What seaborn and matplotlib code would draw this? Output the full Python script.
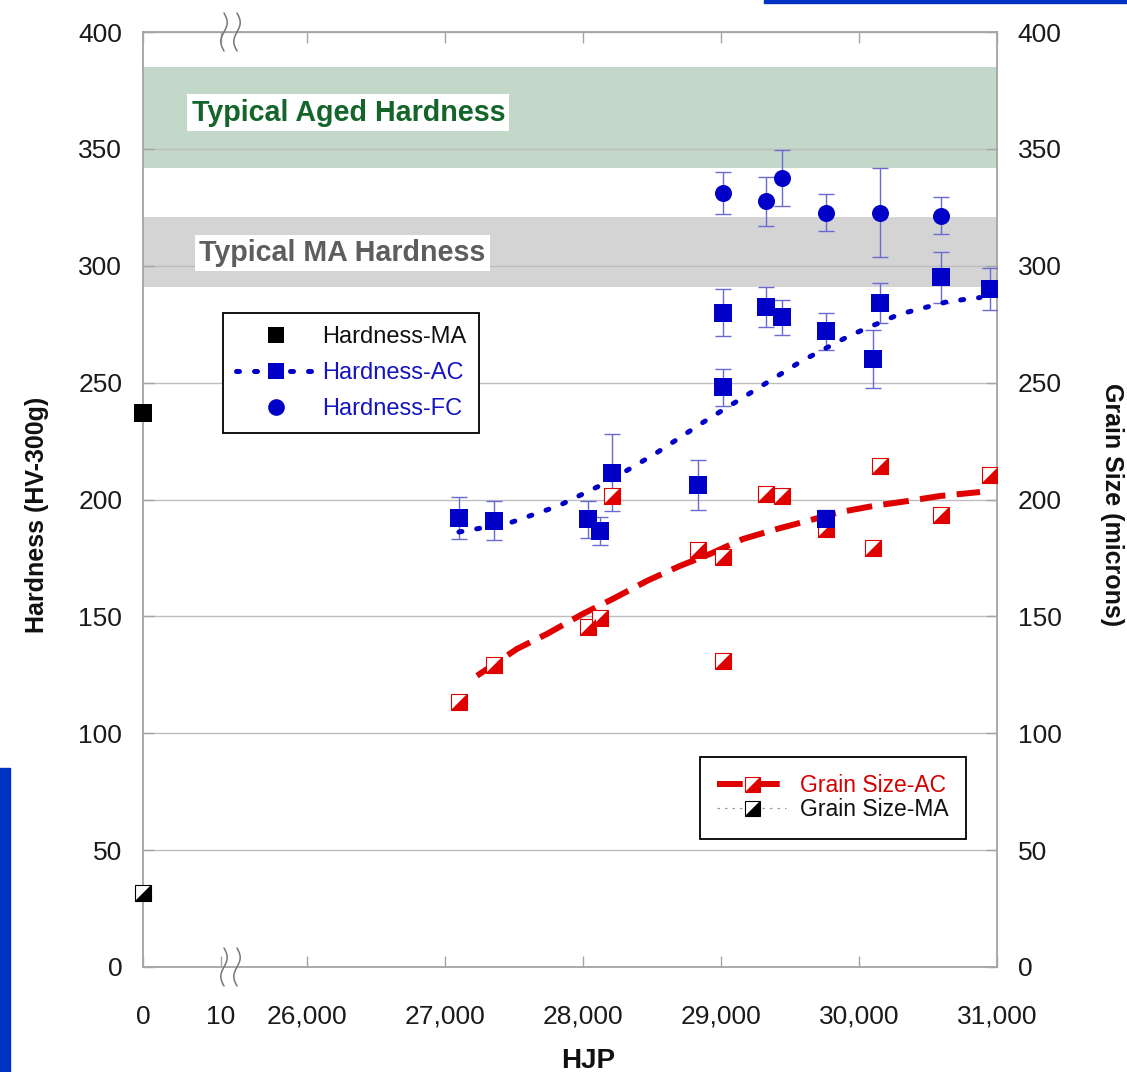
import numpy as np
import matplotlib
matplotlib.use("Agg")
import matplotlib.pyplot as plt
import seaborn as sns
from matplotlib.lines import Line2D
from matplotlib.markers import MarkerStyle
from matplotlib.path import Path
from matplotlib.patches import Rectangle
from matplotlib import font_manager

# ---------------- data ----------------
# mill-annealed reference (plotted at HJP = 0)
hjp_ma = [0]
hardness_ma = [237]
grain_ma = [31.5]

# hardness after air cooling
hjp_ac = [27101, 27355, 28036, 28123, 28210, 28833, 29014, 29014,
          29326, 29442, 29761, 29761, 30101, 30152, 30594, 30949]
hardness_ac = [192, 191, 191.5, 186.5, 211.5, 206, 280, 248,
               282.5, 278, 272, 191.5, 260, 284, 295, 290]
hardness_ac_err = [9, 8.3, 8, 6, 16.5, 10.7, 10, 8,
                   8.5, 7.5, 8, 4, 12.3, 8.5, 11, 9]

# hardness after furnace cooling
hjp_fc = [29014, 29326, 29442, 29761, 30152, 30594]
hardness_fc = [331, 327.5, 337.5, 322.7, 322.7, 321.4]
hardness_fc_err = [9, 10.5, 12, 8, 19, 8]

# grain size after air cooling
hjp_grain = [27101, 27355, 28036, 28123, 28210, 28833, 29014, 29014,
             29326, 29442, 29761, 30101, 30152, 30594, 30949]
grain_ac = [113.5, 129.3, 145.5, 149.4, 201.5, 178.4, 175.4, 131,
            202.3, 201.5, 187.4, 179.3, 214.3, 193.3, 210.4]

# trend curves
hjp_hard_trend = [27101, 27464, 27819, 28174, 28529, 28870,
                  29232, 29580, 29935, 30290, 30645, 30877]
hard_trend = [186.1, 189.9, 197.2, 207.4, 219.8, 233.0,
              246.3, 259.1, 270.2, 279.2, 284.7, 286.4]
hjp_grain_trend = [27232, 27522, 27739, 28000, 28217, 28464, 28703, 28920,
                   29159, 29406, 29623, 29862, 30101, 30348, 30587, 30877]
grain_trend = [124.6, 136.1, 142.5, 151.1, 157.5, 165.2, 171.6, 176.7,
               183.1, 187.4, 190.8, 194.6, 197.2, 199.3, 201.5, 203.2]

# axis ticks
x_ticks = [0, 10, 26000, 27000, 28000, 29000, 30000, 31000]
x_tick_labels = ["0", "10", "26,000", "27,000", "28,000", "29,000", "30,000", "31,000"]
y_ticks = [0, 50, 100, 150, 200, 250, 300, 350, 400]

# typical hardness ranges
aged_band = (342, 385)
ma_band = (291, 321)

# ---------------- style ----------------
sns.set_theme(style="white")
plt.rcParams["font.family"] = ["Liberation Sans", "DejaVu Sans"]
names = {f.name for f in font_manager.fontManager.ttflist}
narrow = ["Liberation Sans Narrow", "Liberation Sans"] if "Liberation Sans Narrow" in names else ["Liberation Sans"]

BLUE = "#0000c8"
ERR = "#6a6ad2"
RED = "#e00000"
GREEN_TXT = "#13652a"
GRAY_TXT = "#5e5e5e"
SPINE = "#a4a4a4"

fig = plt.figure(figsize=(11.27, 10.72), dpi=100)
fig.patch.set_facecolor("white")
ax = fig.add_axes([143 / 1127, 105 / 1072, 854 / 1127, 935 / 1072])


# broken x axis: 0-10 expanded, 10-26,000 compressed, then linear
def fwd(x):
    x = np.asarray(x, dtype=float)
    return np.where(x <= 10, x * 7.8,
                    np.where(x <= 26000, 78 + (x - 10) * (86 / 25990),
                             164 + (x - 26000) * 0.138))


def inv(u):
    u = np.asarray(u, dtype=float)
    return np.where(u <= 78, u / 7.8,
                    np.where(u <= 164, 10 + (u - 78) * (25990 / 86),
                             26000 + (u - 164) / 0.138))


ax.set_xscale("function", functions=(fwd, inv))
ax.set_xlim(0, 31000)
ax.set_ylim(0, 400)

# bands and grid
ax.axhspan(*aged_band, color="#c4d8ca", lw=0, zorder=1)
ax.axhspan(*ma_band, color="#d4d4d4", lw=0, zorder=1)
ax.set_axisbelow("line")
ax.yaxis.grid(True, color="#bdbdbd", lw=1)
ax.xaxis.grid(False)

ytr = ax.get_yaxis_transform()
ax.text(0.057, 365.5, "Typical Aged Hardness", transform=ytr, ha="left", va="center",
        fontsize=20.6, fontweight="bold", color=GREEN_TXT, zorder=3,
        bbox=dict(facecolor="white", edgecolor="none", pad=3))
ax.text(0.066, 305.5, "Typical MA Hardness", transform=ytr, ha="left", va="center",
        fontsize=20.6, fontweight="bold", color=GRAY_TXT, zorder=3,
        bbox=dict(facecolor="white", edgecolor="none", pad=3))

# half-filled marker (lower-right triangle of a square)
tri = MarkerStyle(Path([(-1, -1), (1, -1), (1, 1), (-1, -1)],
                       [Path.MOVETO, Path.LINETO, Path.LINETO, Path.CLOSEPOLY]))

# trend lines
blue_ls = (0, (0.6, 3.0))
red_ls = (0, (4.3, 1.9))
sns.lineplot(x=hjp_hard_trend, y=hard_trend, ax=ax, color=BLUE, lw=3.6,
             linestyle=blue_ls, dash_capstyle="round", zorder=3.5, sort=False)
sns.lineplot(x=hjp_grain_trend, y=grain_trend, ax=ax, color=RED, lw=4.3,
             linestyle=red_ls, dash_capstyle="butt", zorder=3.5, sort=False)

# error bars
ax.errorbar(hjp_ac, hardness_ac, yerr=hardness_ac_err, fmt="none", ecolor=ERR,
            elinewidth=1, capsize=6, capthick=1, zorder=3)
ax.errorbar(hjp_fc, hardness_fc, yerr=hardness_fc_err, fmt="none", ecolor=ERR,
            elinewidth=1, capsize=6, capthick=1, zorder=3)

# grain size markers
sns.scatterplot(x=hjp_grain, y=grain_ac, ax=ax, marker="s", s=118, color="white",
                edgecolor=RED, linewidth=0.8, zorder=4, legend=False)
sns.scatterplot(x=hjp_grain, y=grain_ac, ax=ax, marker=tri, s=118, color=RED,
                linewidth=0, zorder=4.1, legend=False)

# hardness markers
sns.scatterplot(x=hjp_ac, y=hardness_ac, ax=ax, marker="s", s=150, color=BLUE,
                linewidth=0, zorder=5, legend=False)
sns.scatterplot(x=hjp_fc, y=hardness_fc, ax=ax, marker="o", s=150, color=BLUE,
                linewidth=0, zorder=5, legend=False)

# mill-annealed reference
sns.scatterplot(x=hjp_ma, y=hardness_ma, ax=ax, marker="s", s=150, color="black",
                linewidth=0, zorder=6, clip_on=False, legend=False)
sns.scatterplot(x=hjp_ma, y=grain_ma, ax=ax, marker="s", s=118, color="white",
                edgecolor="black", linewidth=0.8, zorder=6, clip_on=False, legend=False)
sns.scatterplot(x=hjp_ma, y=grain_ma, ax=ax, marker=tri, s=118, color="black",
                linewidth=0, zorder=6.1, clip_on=False, legend=False)

# axes styling
ax.set_xticks(x_ticks)
ax.set_xticklabels(x_tick_labels)
ax.set_yticks(y_ticks)
ax.tick_params(axis="x", direction="in", length=8, width=1, color=SPINE, pad=27,
               labelsize=19, labelcolor="#1a1a1a", top=True, bottom=True)
ax.tick_params(axis="y", direction="in", length=8, width=1, color=SPINE, pad=15,
               labelsize=19, labelcolor="#1a1a1a", left=True)
ax.minorticks_off()
for sp in ax.spines.values():
    sp.set_color(SPINE)
    sp.set_linewidth(1.3)

ax.set_xlabel("HJP", fontsize=20, fontweight="bold", color="#111111")
ax.xaxis.set_label_coords((588 - 143) / 854, -0.1)
ax.xaxis.label.set_va("center")
ax.set_ylabel("Hardness (HV-300g)", fontsize=18, fontweight="bold", color="#111111",
              family=narrow)
ax.yaxis.label.set_va("center")
ax.yaxis.set_label_coords((37 - 143) / 854, (967 - 515) / 935)

ax2 = ax.twinx()
ax2.set_ylim(0, 400)
ax2.set_yticks(y_ticks)
ax2.tick_params(axis="y", direction="in", length=8, width=1, color=SPINE, pad=15,
                labelsize=19, labelcolor="#1a1a1a", right=True)
ax2.grid(False)
for sp in ax2.spines.values():
    sp.set_visible(False)
ax2.set_ylabel("Grain Size (microns)", fontsize=18, fontweight="bold", color="#111111",
               family=narrow, rotation=270)
ax2.yaxis.label.set_va("center")
ax2.yaxis.set_label_coords((1112 - 143) / 854, (967 - 505) / 935)

# axis break marks
t = np.linspace(-1, 1, 40)
for xc_px in (224, 237):
    for yc in (0.0, 1.0):
        xs = (xc_px - 143 + 3.2 * np.sin(np.pi * t)) / 854
        ys = yc + t * 19 / 935
        ax.add_line(Line2D(xs, ys, transform=ax.transAxes, color="#777777", lw=1.1,
                           clip_on=False, zorder=7))

# legends
h_ma = Line2D([], [], ls="none", marker="s", ms=11, color="black", mew=0)
h_ac = Line2D([], [], color=BLUE, lw=3.6, ls=blue_ls, dash_capstyle="round",
              marker="s", ms=11, mew=0)
h_fc = Line2D([], [], ls="none", marker="o", ms=12, color=BLUE, mew=0)
leg1 = ax.legend([h_ma, h_ac, h_fc], ["Hardness-MA", "Hardness-AC", "Hardness-FC"],
                 loc="upper left", bbox_to_anchor=(223 / 1127, 1 - 313 / 1072),
                 bbox_transform=fig.transFigure, borderaxespad=0, fontsize=17,
                 handlelength=3.4, handletextpad=0.25, borderpad=0.55,
                 labelspacing=0.6, frameon=True, fancybox=False, framealpha=1)
leg1.get_frame().set_edgecolor("black")
leg1.get_frame().set_linewidth(1.3)
for txt, col in zip(leg1.get_texts(), ["#111111", "#1414c0", "#1414c0"]):
    txt.set_color(col)
ax.add_artist(leg1)

g_line = Line2D([], [], color=RED, lw=4.3, ls=red_ls)
g_box = Line2D([], [], ls="none", marker="s", ms=10.8, mfc="white", mec=RED, mew=0.8)
g_tri = Line2D([], [], ls="none", marker=tri, ms=10.8, color=RED, mew=0)
m_line = Line2D([], [], color="#9a9a9a", lw=0.9, ls=(0, (2, 4)))
m_box = Line2D([], [], ls="none", marker="s", ms=10.8, mfc="white", mec="black", mew=0.8)
m_tri = Line2D([], [], ls="none", marker=tri, ms=10.8, color="black", mew=0)
leg2 = ax.legend([(g_line, g_box, g_tri), (m_line, m_box, m_tri)],
                 ["Grain Size-AC", "Grain Size-MA"],
                 loc="upper left", bbox_to_anchor=(700 / 1127, 1 - 757 / 1072),
                 bbox_transform=fig.transFigure, borderaxespad=0, fontsize=16.5,
                 handlelength=3.0, handletextpad=0.6, borderpad=0.75,
                 labelspacing=0.05, frameon=True, fancybox=False, framealpha=1)
leg2.get_frame().set_edgecolor("black")
leg2.get_frame().set_linewidth(1.3)
for txt, col in zip(leg2.get_texts(), ["#d40000", "#111111"]):
    txt.set_color(col)

# page accents
fig.patches.append(Rectangle((0, 0), 10 / 1127, (1072 - 768) / 1072,
                             transform=fig.transFigure, color="#0033c4", zorder=0))
fig.patches.append(Rectangle((764 / 1127, 1 - 3 / 1072), (1127 - 764) / 1127, 3 / 1072,
                             transform=fig.transFigure, color="#0033c4", zorder=0))

fig.savefig("out.png", dpi=100, facecolor="white")
